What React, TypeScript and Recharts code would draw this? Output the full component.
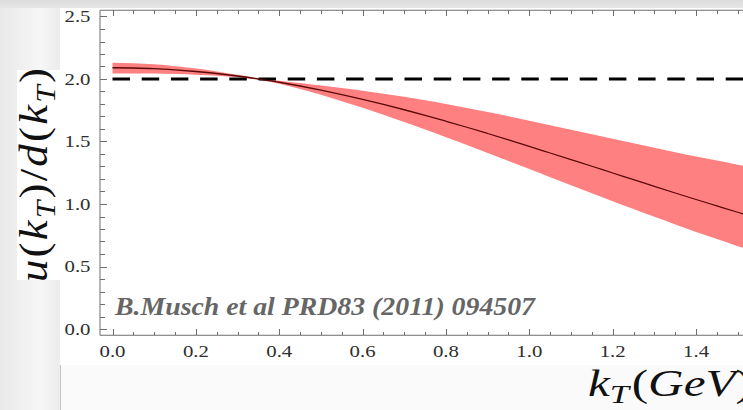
import React from "react";
import { ComposedChart, XAxis, YAxis, Area, Line } from "recharts";

// transverse momentum grid (GeV)
const kT = [
  0, 0.05, 0.1, 0.15, 0.2, 0.25, 0.3, 0.35, 0.4, 0.45, 0.5, 0.55, 0.6, 0.65, 0.7, 0.75,
  0.8, 0.85, 0.9, 0.95, 1.0, 1.05, 1.1, 1.15, 1.2, 1.25, 1.3, 1.35, 1.4, 1.45, 1.5, 1.55,
];

// central value of u(kT)/d(kT)
const ratioCentral = [
  2.09, 2.088, 2.083, 2.073, 2.06, 2.044, 2.024, 2.0, 1.974, 1.944, 1.911, 1.875, 1.837, 1.797, 1.754, 1.709,
  1.662, 1.614, 1.564, 1.513, 1.461, 1.408, 1.355, 1.302, 1.248, 1.195, 1.141, 1.088, 1.036, 0.985, 0.934, 0.884,
];

// error band
const bandUpper = [
  2.13, 2.126, 2.118, 2.103, 2.084, 2.061, 2.034, 2.006, 1.986, 1.968, 1.949, 1.928, 1.906, 1.883, 1.858, 1.83,
  1.8, 1.769, 1.736, 1.702, 1.667, 1.631, 1.595, 1.559, 1.522, 1.486, 1.45, 1.415, 1.381, 1.348, 1.315, 1.283,
];
const bandLower = [
  2.045, 2.045, 2.044, 2.041, 2.035, 2.027, 2.014, 1.994, 1.962, 1.92, 1.874, 1.823, 1.771, 1.715, 1.656, 1.596,
  1.535, 1.473, 1.409, 1.345, 1.28, 1.215, 1.151, 1.087, 1.023, 0.961, 0.898, 0.837, 0.777, 0.72, 0.663, 0.609,
];

// SU(6) reference level
const flatLevel = 2;

const xMajor = [0, 0.2, 0.4, 0.6, 0.8, 1.0, 1.2, 1.4];
const yMajor = [0, 0.5, 1.0, 1.5, 2.0, 2.5];
const xTicks = Array.from({ length: 31 }, (_, i) => +(i * 0.05).toFixed(2));
const yTicks = Array.from({ length: 26 }, (_, i) => +(i * 0.1).toFixed(1));

const rows = kT.map((k, i) => ({
  k,
  ratio: ratioCentral[i],
  band: [bandLower[i], bandUpper[i]],
  flat: flatLevel,
}));

const FRAME = "#6e6e6e";
const serif = "'Liberation Serif', 'Times New Roman', serif";

const isMajor = (v: number, list: number[]) => list.some(m => Math.abs(m - v) < 1e-6);
const crisp = (v: number) => Math.round(v) + 0.5;

// labels are drawn a bit wider than tall
function TickText({ x, y, anchor, text }: { x: number; y: number; anchor: string; text: string }) {
  return (
    <text
      transform={`translate(${x},${y}) scale(1.3,1)`}
      textAnchor={anchor}
      fontFamily={serif}
      fontSize={16}
      fill="#2e2e2e"
    >
      {text}
    </text>
  );
}

function BottomTick(p: any) {
  const major = isMajor(p.payload.value, xMajor);
  const x = crisp(p.x);
  return (
    <g>
      <line x1={x} x2={x} y1={p.y} y2={p.y - (major ? 6 : 3.5)} stroke={FRAME} shapeRendering="crispEdges" />
      {major && <TickText x={p.x} y={p.y + 22} anchor="middle" text={p.payload.value.toFixed(1)} />}
    </g>
  );
}

function TopTick(p: any) {
  const major = isMajor(p.payload.value, xMajor);
  const x = crisp(p.x);
  return <line x1={x} x2={x} y1={p.y} y2={p.y + (major ? 6 : 4)} stroke={FRAME} shapeRendering="crispEdges" />;
}

function LeftTick(p: any) {
  const major = isMajor(p.payload.value, yMajor);
  const y = crisp(p.y);
  return (
    <g>
      <line x1={p.x} x2={p.x + (major ? 6.5 : 4.5)} y1={y} y2={y} stroke={FRAME} shapeRendering="crispEdges" />
      {major && <TickText x={p.x - 9.5} y={p.y + 5.5} anchor="end" text={p.payload.value.toFixed(1)} />}
    </g>
  );
}

export default function App() {
  return (
    <div
      style={{
        position: "absolute",
        left: 0,
        top: 0,
        width: 743,
        height: 410,
        overflow: "hidden",
        background: "linear-gradient(to right, #e9e9e9 0px, #f6f6f6 40px, #ececec 60px)",
      }}
    >
      {/* slide header strip */}
      <div
        style={{
          position: "absolute",
          left: 0,
          top: 0,
          width: 743,
          height: 8,
          background: "linear-gradient(to bottom, #dcdcdc, #e8e8e8)",
        }}
      />
      {/* plot panel */}
      <div style={{ position: "absolute", left: 60, top: 8, width: 700, height: 357, background: "#fff" }} />
      <div
        style={{
          position: "absolute",
          left: 60,
          top: 365,
          width: 700,
          height: 50,
          background: "#fafafa",
          borderLeft: "1px solid #c4c4c4",
        }}
      />
      <div style={{ position: "absolute", left: 0, top: 0 }}>
        <ComposedChart
          width={770}
          height={410}
          data={rows}
          margin={{ top: 9.25, right: 11.4, bottom: 73.75, left: 0 }}
        >
          <XAxis
            xAxisId="b"
            dataKey="k"
            type="number"
            domain={[-0.03, 1.55]}
            ticks={xTicks}
            interval={0}
            height={1}
            tickSize={0}
            tickMargin={0}
            tickLine={false}
            tick={(p: any) => <BottomTick {...p} />}
            axisLine={{ stroke: FRAME }}
            allowDataOverflow
          />
          <XAxis
            xAxisId="t"
            orientation="top"
            dataKey="k"
            type="number"
            domain={[-0.03, 1.55]}
            ticks={xTicks}
            interval={0}
            height={1}
            tickSize={0}
            tickMargin={0}
            tickLine={false}
            tick={(p: any) => <TopTick {...p} />}
            axisLine={{ stroke: FRAME }}
            allowDataOverflow
          />
          <YAxis
            yAxisId="l"
            type="number"
            domain={[-0.05, 2.55]}
            ticks={yTicks}
            interval={0}
            width={100}
            tickSize={0}
            tickMargin={0}
            tickLine={false}
            tick={(p: any) => <LeftTick {...p} />}
            axisLine={{ stroke: FRAME }}
            allowDataOverflow
          />
          <Area
            xAxisId="b"
            yAxisId="l"
            dataKey="band"
            type="monotone"
            fill="#ff8080"
            fillOpacity={1}
            stroke="none"
            isAnimationActive={false}
          />
          <Line
            xAxisId="b"
            yAxisId="l"
            dataKey="flat"
            stroke="#000"
            strokeWidth={2.8}
            strokeDasharray="17.5 11.7"
            dot={false}
            isAnimationActive={false}
          />
          <Line
            xAxisId="b"
            yAxisId="l"
            dataKey="ratio"
            type="monotone"
            stroke="#5a0808"
            strokeWidth={1.3}
            dot={false}
            isAnimationActive={false}
          />
        </ComposedChart>
      </div>
      <svg
        width={743}
        height={410}
        style={{ position: "absolute", left: 0, top: 0, pointerEvents: "none" }}
      >
        <text
          x={115}
          y={315}
          fontFamily={serif}
          fontSize={25}
          fontWeight="bold"
          fontStyle="italic"
          fill="#666"
          textLength={420}
          lengthAdjust="spacingAndGlyphs"
        >
          B.Musch et al PRD83 (2011) 094507
        </text>
        <text transform="translate(588,396) scale(1.33,1)" fontFamily={serif} fontSize={37} fill="#111">
          <tspan fontStyle="italic">k</tspan>
          <tspan fontStyle="italic" fontSize={26} dy={7}>T</tspan>
          <tspan dy={-7} dx={2}>(</tspan>
          <tspan fontStyle="italic">GeV</tspan>
          <tspan>)</tspan>
        </text>
      </svg>
      {/* y-axis title on its own white box */}
      <div
        style={{ position: "absolute", left: 17, top: 70, width: 43, height: 210, background: "#fff", overflow: "hidden" }}
      >
        <svg width={43} height={210}>
          <text
            transform="translate(30,104) rotate(-90) scale(1.12,1)"
            textAnchor="middle"
            fontFamily={serif}
            fontSize={40}
            fill="#111"
            letterSpacing={2}
          >
            <tspan fontStyle="italic">u</tspan>
            <tspan>(</tspan>
            <tspan fontStyle="italic">k</tspan>
            <tspan fontStyle="italic" fontSize={28} dy={8}>T</tspan>
            <tspan dy={-8}>)/</tspan>
            <tspan fontStyle="italic">d</tspan>
            <tspan>(</tspan>
            <tspan fontStyle="italic">k</tspan>
            <tspan fontStyle="italic" fontSize={28} dy={8}>T</tspan>
            <tspan dy={-8}>)</tspan>
          </text>
        </svg>
      </div>
    </div>
  );
}
